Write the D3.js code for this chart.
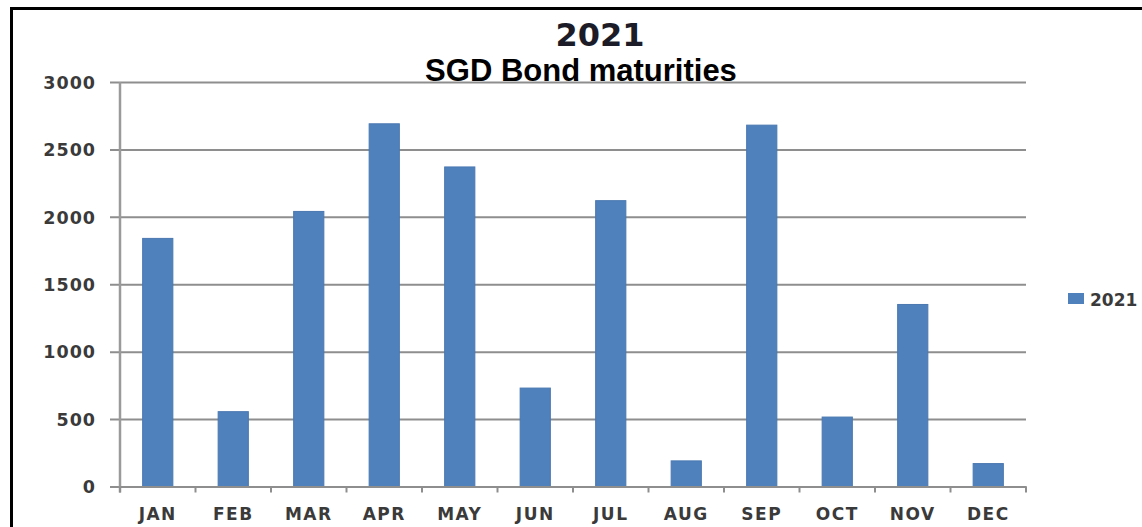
<!DOCTYPE html>
<html>
<head>
<meta charset="utf-8">
<script src="https://cdn.jsdelivr.net/npm/d3@7"></script>
<style>
  html, body { margin: 0; padding: 0; background: #fff; }
  svg { display: block; }
</style>
</head>
<body>
<svg id="chart" width="1142" height="527"></svg>
<script>
// SGD bond maturities by month, 2021
const months = ["JAN","FEB","MAR","APR","MAY","JUN","JUL","AUG","SEP","OCT","NOV","DEC"];
const maturities2021 = [1840, 555, 2040, 2690, 2370, 730, 2120, 190, 2680, 515, 1350, 170];
const yTicks = [0, 500, 1000, 1500, 2000, 2500, 3000];
const seriesName = "2021";
const titleYear = "2021";
const titleText = "SGD Bond maturities";

const svg = d3.select("#chart");

// outer frame
svg.append("rect")
  .attr("x", 11.5).attr("y", 8.5)
  .attr("width", 1200).attr("height", 600)
  .attr("fill", "none").attr("stroke", "#000").attr("stroke-width", 3);

const plotLeft = 120, plotRight = 1026, plotTop = 82, plotBottom = 486.5;

const x = d3.scaleBand().domain(months).range([plotLeft, plotRight])
  .paddingInner(0.6).paddingOuter(0.3);
const y = d3.scaleLinear().domain([0, 3000]).range([plotBottom, plotTop]);

const labelFont = "DejaVu Sans, sans-serif";
const labelColor = "#3a3a3a";

// horizontal gridlines with short ticks left of the axis
const yAxis = d3.axisLeft(y).tickValues(yTicks).tickSize(-(plotRight - plotLeft)).tickPadding(24).tickFormat(d3.format("d"));
const gy = svg.append("g").attr("transform", `translate(${plotLeft},0)`).call(yAxis);
gy.select(".domain").remove();
gy.selectAll(".tick line")
  .attr("x1", -10)
  .attr("stroke", "#8e8e8e").attr("stroke-width", 2);
gy.selectAll(".tick text")
  .attr("fill", labelColor)
  .attr("font-family", labelFont)
  .attr("font-weight", "bold")
  .attr("font-size", 17.5)
  .attr("letter-spacing", 1)
  .attr("dy", "0.36em");

// vertical axis line
svg.append("line")
  .attr("x1", plotLeft).attr("x2", plotLeft)
  .attr("y1", plotTop).attr("y2", plotBottom + 6)
  .attr("stroke", "#9a9a9a").attr("stroke-width", 2.5);

// bars
svg.append("g").selectAll("rect")
  .data(months.map((m, i) => ({ m, v: maturities2021[i] })))
  .join("rect")
  .attr("x", d => x(d.m))
  .attr("y", d => y(d.v))
  .attr("width", x.bandwidth())
  .attr("height", d => y(0) - y(d.v))
  .attr("fill", "#4f81bd")
  .attr("stroke", "#4a78b0")
  .attr("stroke-width", 1);

// category axis with tick marks at category boundaries
const xAxis = d3.axisBottom(x).tickSize(0).tickPadding(21);
const gx = svg.append("g").attr("transform", `translate(0,${plotBottom})`).call(xAxis);
gx.select(".domain").attr("stroke", "#8e8e8e").attr("stroke-width", 2);
gx.selectAll(".tick text")
  .attr("fill", labelColor)
  .attr("font-family", labelFont)
  .attr("font-weight", "bold")
  .attr("font-size", 17)
  .attr("letter-spacing", 1.5);

const step = x.step();
const boundaries = months.map(m => x(m) - (step - x.bandwidth()) / 2).concat([plotRight]);
svg.append("g").selectAll("line")
  .data(boundaries)
  .join("line")
  .attr("x1", d => d).attr("x2", d => d)
  .attr("y1", plotBottom).attr("y2", plotBottom + 6)
  .attr("stroke", "#8e8e8e").attr("stroke-width", 2);

// titles
svg.append("text")
  .attr("x", 600).attr("y", 46)
  .attr("text-anchor", "middle")
  .attr("font-family", labelFont)
  .attr("font-weight", "bold")
  .attr("font-size", 32)
  .attr("fill", "#1c1c28")
  .text(titleYear);

svg.append("text")
  .attr("x", 581).attr("y", 81)
  .attr("text-anchor", "middle")
  .attr("font-family", "Liberation Sans, Arial, sans-serif")
  .attr("font-weight", "bold")
  .attr("font-size", 31)
  .attr("fill", "#000")
  .text(titleText);

// legend
const lg = svg.append("g");
lg.append("rect")
  .attr("x", 1068).attr("y", 293)
  .attr("width", 16).attr("height", 11)
  .attr("fill", "#4f81bd");
lg.append("text")
  .attr("x", 1090).attr("y", 306)
  .attr("font-family", labelFont)
  .attr("font-weight", "bold")
  .attr("font-size", 17)
  .attr("fill", labelColor)
  .text(seriesName);
</script>
</body>
</html>
